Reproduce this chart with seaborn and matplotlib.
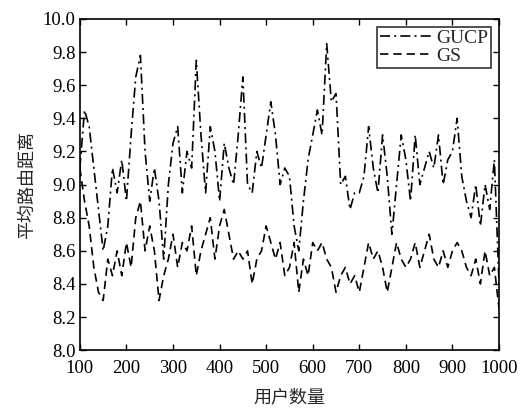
import matplotlib
matplotlib.use("Agg")
import matplotlib.pyplot as plt
import seaborn as sns
import pandas as pd
import numpy as np

users = list(range(100, 1001, 10))

gucp = [9.10, 9.45, 9.35, 9.10, 8.85, 8.60, 8.75, 9.10, 8.95, 9.15,
        8.90, 9.30, 9.65, 9.78, 9.20, 8.90, 9.10, 8.90, 8.55, 9.00,
        9.25, 9.35, 8.95, 9.20, 9.10, 9.75, 9.30, 8.95, 9.35, 9.20,
        8.90, 9.25, 9.10, 9.00, 9.30, 9.65, 9.00, 8.95, 9.20, 9.10,
        9.30, 9.50, 9.30, 9.00, 9.10, 9.05, 8.75, 8.60, 8.90, 9.15,
        9.30, 9.45, 9.30, 9.85, 9.50, 9.55, 9.00, 9.05, 8.85, 8.95,
        8.95, 9.05, 9.35, 9.10, 8.95, 9.30, 9.05, 8.70, 9.00, 9.30,
        9.15, 8.90, 9.30, 9.00, 9.10, 9.20, 9.10, 9.30, 9.00, 9.15,
        9.20, 9.40, 9.05, 8.90, 8.80, 9.00, 8.75, 9.00, 8.85, 9.15,
        8.40]

gs = [9.10, 8.90, 8.75, 8.50, 8.35, 8.30, 8.55, 8.45, 8.60, 8.45,
      8.65, 8.50, 8.80, 8.90, 8.60, 8.75, 8.60, 8.30, 8.45, 8.55,
      8.70, 8.50, 8.65, 8.60, 8.75, 8.45, 8.60, 8.70, 8.80, 8.55,
      8.75, 8.85, 8.70, 8.55, 8.60, 8.55, 8.60, 8.40, 8.55, 8.60,
      8.75, 8.65, 8.55, 8.65, 8.45, 8.50, 8.65, 8.35, 8.55, 8.45,
      8.65, 8.60, 8.65, 8.55, 8.50, 8.35, 8.45, 8.50, 8.40, 8.45,
      8.35, 8.50, 8.65, 8.55, 8.60, 8.50, 8.35, 8.50, 8.65, 8.55,
      8.50, 8.55, 8.65, 8.50, 8.60, 8.70, 8.55, 8.50, 8.60, 8.50,
      8.60, 8.65, 8.60, 8.50, 8.45, 8.55, 8.40, 8.60, 8.45, 8.50,
      8.25]

series_names = ["GUCP", "GS"]
xticks = list(range(100, 1001, 100))
yticks = [8.0, 8.2, 8.4, 8.6, 8.8, 9.0, 9.2, 9.4, 9.6, 9.8, 10.0]

df = pd.DataFrame({
    "x": users * 2,
    "y": gucp + gs,
    "s": [series_names[0]] * len(users) + [series_names[1]] * len(users),
})

sns.set_style("ticks")
plt.rcParams["font.family"] = ["Liberation Serif", "Noto Sans CJK SC"]

fig = plt.figure(figsize=(5.22, 4.12), dpi=100)
ax = fig.add_axes([0.153, 0.150, 0.803, 0.804])

sns.lineplot(data=df, x="x", y="y", hue="s", style="s",
             palette={"GUCP": "black", "GS": "black"},
             dashes={"GUCP": (6, 2.5, 1.2, 2.5), "GS": (5, 3)},
             linewidth=1.2, ax=ax)

ax.set_xlim(100, 1000)
ax.set_ylim(8.0, 10.0)
ax.set_xticks(xticks)
ax.set_yticks(yticks)
ax.set_yticklabels([f"{v:.1f}" for v in yticks])
ax.tick_params(direction="in", top=True, right=True, length=4, width=1,
               labelsize=13.5, colors="black")
ax.tick_params(axis="x", pad=7)
ax.tick_params(axis="y", pad=3)
for sp in ax.spines.values():
    sp.set_linewidth(1.2)
    sp.set_color("black")

ax.set_xlabel("用户数量", family=["Noto Sans CJK SC"], fontsize=13, labelpad=8)
ax.set_ylabel("平均路由距离", family=["Noto Sans CJK SC"], fontsize=13, labelpad=5)

leg = ax.legend(loc="upper right", fontsize=14, frameon=True, fancybox=False,
                edgecolor="black", handlelength=2.6, handletextpad=0.3,
                borderpad=0.15, labelspacing=0.0, borderaxespad=0.4, title=None)
leg.get_frame().set_linewidth(1.2)

fig.savefig("out.png", dpi=100)
